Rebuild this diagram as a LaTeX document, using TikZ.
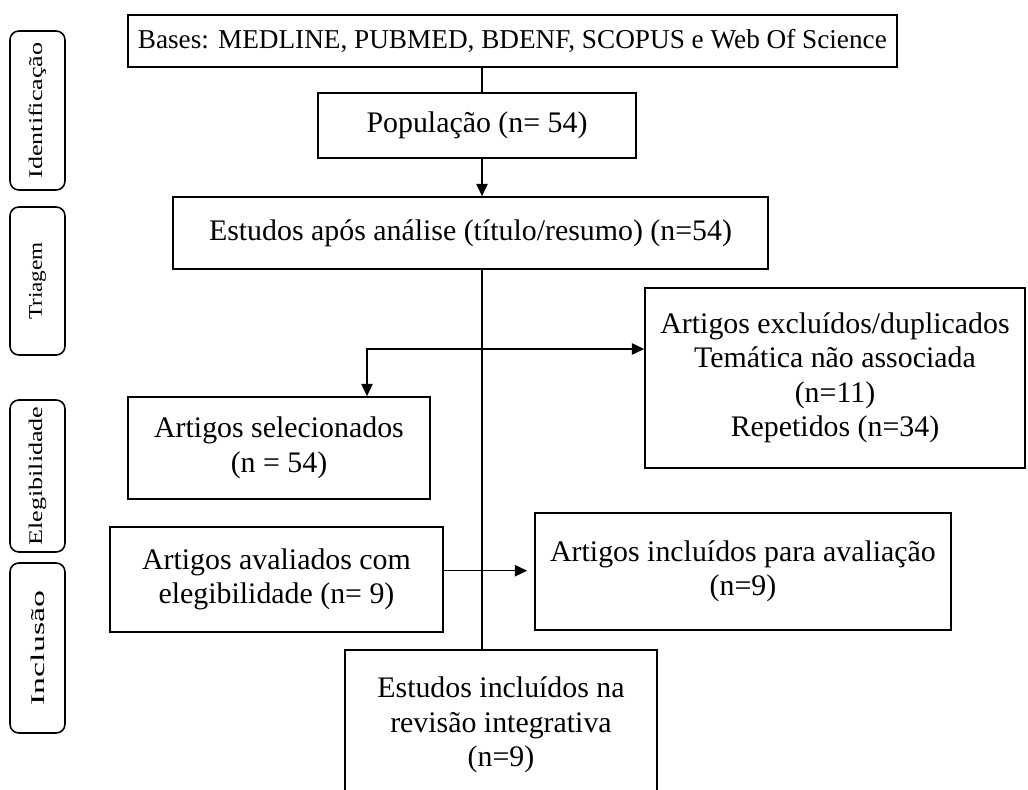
\documentclass[tikz,border=0pt]{standalone}
\usepackage{fontspec}
\setmainfont{Liberation Serif}
\usepackage{graphicx}
\usetikzlibrary{arrows.meta,positioning}
\tikzset{
  >={Triangle[length=7pt,width=6.5pt]},
  box/.style={draw, line width=1pt, align=center, inner sep=0pt,
    font=\fontsize{17}{19.6}\selectfont},
  phase/.style={draw, line width=0.9pt, rounded corners=5pt, inner sep=0pt,
    minimum width=1.1cm, font=\fontsize{11}{13}\selectfont},
  link/.style={line width=0.8pt},
}
\newcommand{\phasetext}[2][1.35]{\rotatebox{90}{\scalebox{#1}[1]{#2}}}

\begin{document}
\begin{tikzpicture}[x=0.02cm,y=-0.02cm]
  \useasboundingbox (0,0) rectangle (1028,789);

  % phases on the left
  \node[phase, minimum height=3.18cm] (ident) at (37.5,110.5) {\phasetext{Identificação}};
  \node[phase, minimum height=2.96cm] (triag) at (37.5,281) {\phasetext[1.2]{Triagem}};
  \node[phase, minimum height=3.04cm] (eleg) at (37.5,476) {\phasetext[1.35]{Elegibilidade}};
  \node[phase, minimum height=3.4cm] (inclu) at (37.5,648) {\phasetext[1.75]{Inclusão}};

  % flow
  \node[box, anchor=west, minimum height=1.04cm, inner xsep=0.2cm, font=\fontsize{15.5}{18}\selectfont] (bases) at (127,41)
    {Bases: MEDLINE, PUBMED, BDENF, SCOPUS e Web Of Science};
  \node[box, minimum width=6.36cm, minimum height=1.3cm] (pop) at (477,125.5) {População (n= 54)};
  \node[box, minimum width=11.9cm, minimum height=1.44cm] (estudos) at (470.5,233)
    {Estudos após análise (título/resumo) (n=54)};
  \node[box, minimum width=7.6cm, minimum height=3.6cm] (excl) at (835,378)
    {Artigos excluídos/duplicados\\Temática não associada\\(n=11)\\Repetidos (n=34)};
  \node[box, minimum width=6.04cm, minimum height=2.04cm] (sel) at (279,448)
    {Artigos selecionados\\(n = 54)};
  \node[box, minimum width=6.66cm, minimum height=2.1cm] (aval) at (276.5,579.5)
    {Artigos avaliados com\\elegibilidade (n= 9)};
  \node[box, minimum width=8.32cm, minimum height=2.34cm] (incl) at (743,571.5)
    {Artigos incluídos para avaliação\\(n=9)};
  \node[box, minimum width=6.24cm, minimum height=3cm] (final) at (501,725)
    {Estudos incluídos na\\revisão integrativa\\(n=9)};

  % connectors
  \coordinate (trunk) at (482,0);
  \coordinate (fork) at (367,349);
  \draw[link] (bases.south -| trunk) -- (pop.north -| trunk);
  \draw[link, ->] (pop.south -| trunk) -- (estudos.north -| trunk);
  \draw[link] (estudos.south -| trunk) -- (final.north -| trunk);
  \draw[link, <->] (fork |- sel.north) -- (fork) -- (fork -| excl.west);
  \draw[link, ->, shorten >=4pt] ([yshift=5pt]aval.east) -- ([yshift=5pt]aval.east -| incl.west);
\end{tikzpicture}
\end{document}
